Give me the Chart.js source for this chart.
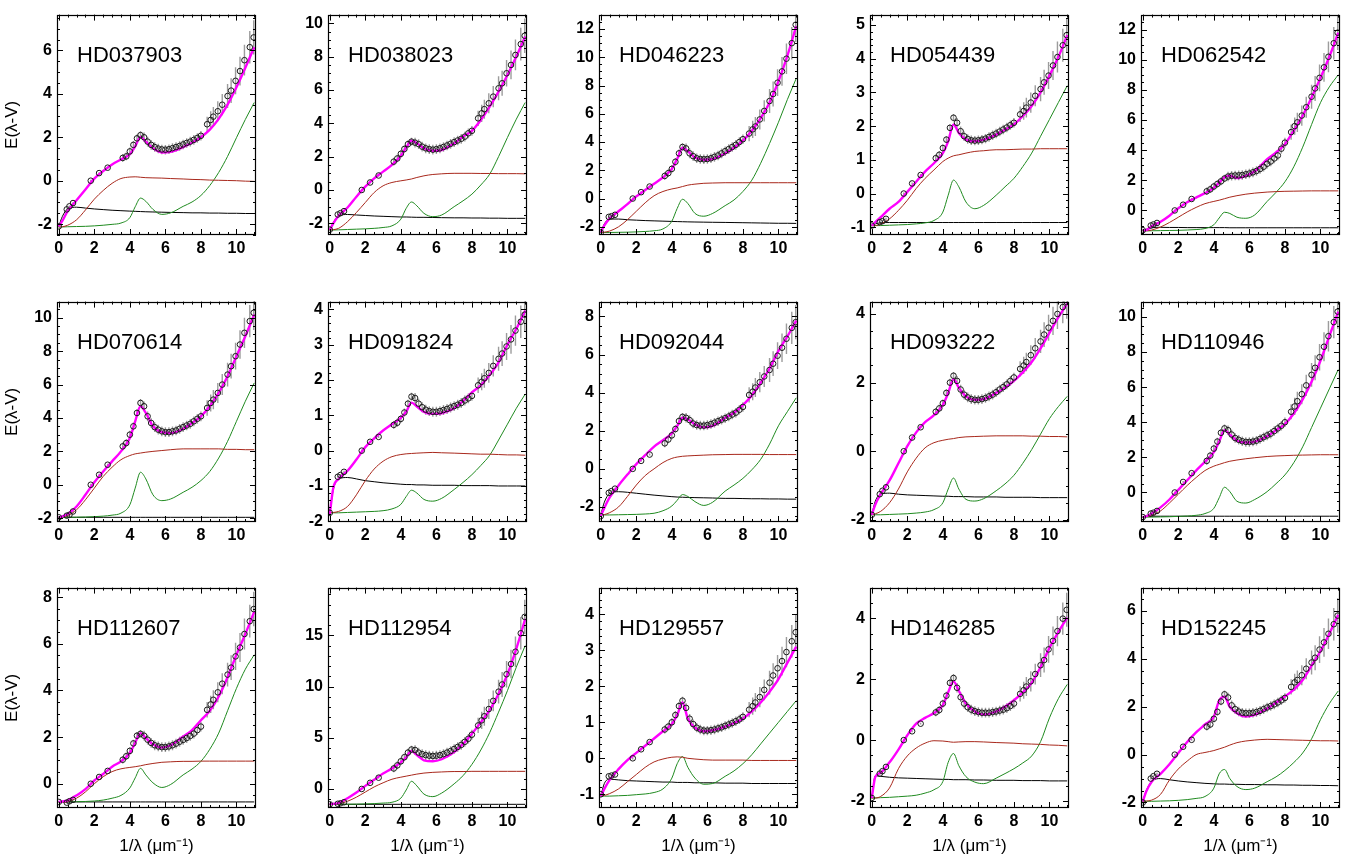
<!DOCTYPE html>
<html><head><meta charset="utf-8">
<script src="https://cdn.jsdelivr.net/npm/chart.js@4.4.1/dist/chart.umd.min.js"></script>
<style>
html,body{margin:0;padding:0;background:#fff;width:1358px;height:856px;overflow:hidden;position:relative;font-family:"Liberation Sans",Arial,sans-serif;}
canvas{position:absolute;}
.lbl{position:absolute;font-size:22px;line-height:22px;color:#000;white-space:nowrap;z-index:5;}
</style></head><body>
<script>
// ---------------- DATA ----------------
const NAMES = ["HD037903","HD038023","HD046223","HD054439","HD062542",
               "HD070614","HD091824","HD092044","HD093222","HD110946",
               "HD112607","HD112954","HD129557","HD146285","HD152245"];
const OBS_X = [0,0.45,0.6,0.8,1.8,2.27,2.75, 3.6,3.8,4.0,4.2,4.4,4.6,
  4.8,5.0,5.2,5.4,5.6,5.8,6.0,6.2,6.4,6.6,6.8,7.0,7.2,7.4,7.6,7.8,8.0,
  8.35,8.55,8.7,8.95,9.2,9.5,9.7,9.95,10.2,10.45,10.75,10.97];
const CURVE_X = [0,0.2,0.5,1,1.5,2,2.5,3,3.5,4,4.3,4.6,4.9,5.3,5.8,6.3,7,7.5,8,8.5,9,9.5,10,10.5,11];
const YMIN = [-2.5,-2.7,-2.58,-1.23,-1.63,-2.23,-2.02,-2.79,-2.06,-1.68,-1.04,-1.86,-1.38,-2.23,-2.23];
const YMAX = [7.65,10.52,13.02,5.31,13.0,10.97,4.22,8.78,4.36,10.87,8.41,19.66,4.74,5.01,6.98];
const YSTEP = [2,2,2,1,2,2,1,2,2,2,2,5,1,2,2];

// observed E(lambda-V)
const OBS_01 = [-2.1,-1.32,-1.18,-1.03,0,0.35,0.6, 1.05,1.12,1.35,1.65,1.95,2.1, 2.0,1.8,1.65,1.55,1.48,1.44,1.43,1.45,1.5,1.55,1.6,1.67,1.74,1.8,1.88,1.97,2.07, 2.6,2.8,2.95,3.2,3.5,3.9,4.15,4.6,5.05,5.55,6.15,6.6];
const OBS_02 = [-2.38,-1.47,-1.39,-1.27,0,0.45,0.87, 1.7,1.89,2.17,2.46,2.75,2.9, 2.84,2.75,2.6,2.5,2.45,2.42,2.45,2.5,2.58,2.67,2.77,2.87,2.97,3.07,3.2,3.4,3.55, 4.3,4.6,4.85,5.2,5.6,6.1,6.4,7.0,7.5,8.1,8.75,9.25];
const OBS_03 = [-2.4,-1.3,-1.25,-1.15,0,0.45,0.85, 1.6,1.8,2.1,2.6,3.2,3.65, 3.55,3.2,3.0,2.85,2.8,2.78,2.8,2.85,2.95,3.05,3.2,3.35,3.5,3.65,3.8,4.0,4.2, 4.6,4.9,5.1,5.6,6.2,6.9,7.4,8.2,9.0,9.9,11.0,12.3];
const OBS_04 = [-0.95,-0.85,-0.82,-0.75,0,0.3,0.55, 1.05,1.15,1.35,1.6,1.95,2.25, 2.1,1.85,1.7,1.62,1.58,1.57,1.58,1.6,1.63,1.68,1.73,1.78,1.84,1.9,1.96,2.03,2.1, 2.35,2.45,2.55,2.7,2.9,3.1,3.3,3.5,3.8,4.05,4.4,4.7];
const OBS_05 = [-1.31,-1.0,-0.93,-0.83,0,0.38,0.76, 1.27,1.4,1.59,1.76,1.93,2.12, 2.25,2.3,2.32,2.33,2.35,2.4,2.45,2.53,2.62,2.75,2.9,3.1,3.25,3.45,3.65,4.1,4.5, 5.2,5.6,5.85,6.3,6.85,7.55,8.1,8.8,9.5,10.2,11.1,11.8];
const OBS_06 = [-1.95,-1.85,-1.8,-1.6,0,0.6,1.2, 2.3,2.5,3.0,3.5,4.3,4.9, 4.7,4.1,3.7,3.45,3.3,3.2,3.15,3.15,3.2,3.25,3.35,3.45,3.55,3.65,3.8,3.95,4.1, 4.6,4.9,5.1,5.5,6.0,6.6,7.1,7.7,8.4,9.1,9.8,10.3];
const OBS_07 = [-1.76,-0.74,-0.69,-0.6,0,0.25,0.39, 0.73,0.79,0.9,1.08,1.33,1.53, 1.49,1.33,1.23,1.16,1.12,1.1,1.1,1.12,1.15,1.18,1.22,1.26,1.3,1.35,1.42,1.48,1.55, 1.85,1.95,2.05,2.2,2.4,2.6,2.75,2.95,3.15,3.4,3.65,3.85];
const OBS_08 = [-2.48,-1.26,-1.17,-1.04,0,0.42,0.75, 1.34,1.54,1.76,2.09,2.51,2.73, 2.68,2.56,2.38,2.3,2.27,2.27,2.3,2.35,2.42,2.5,2.58,2.66,2.75,2.85,2.95,3.1,3.25, 3.88,4.05,4.27,4.55,4.85,5.19,5.52,5.94,6.36,6.83,7.4,7.7];
const OBS_09 = [-1.85,-1.25,-1.15,-1.05,0,0.4,0.7, 1.15,1.25,1.4,1.7,2.0,2.2, 2.05,1.8,1.65,1.57,1.52,1.5,1.5,1.52,1.55,1.6,1.65,1.72,1.8,1.87,1.95,2.05,2.15, 2.4,2.5,2.6,2.8,3.0,3.2,3.4,3.6,3.8,4.0,4.2,4.35];
const OBS_10 = [-1.4,-1.2,-1.15,-1.05,0,0.6,1.1, 1.8,2.1,2.5,2.9,3.4,3.65, 3.55,3.3,3.1,3.0,2.92,2.88,2.88,2.9,2.95,3.05,3.15,3.25,3.35,3.5,3.65,3.8,4.0, 4.6,4.9,5.2,5.6,6.1,6.7,7.1,7.7,8.3,8.9,9.7,10.3];
const OBS_11 = [-0.78,-0.81,-0.75,-0.69,0,0.29,0.55, 1.03,1.18,1.41,1.73,2.06,2.14, 2.06,1.89,1.75,1.65,1.6,1.57,1.57,1.6,1.65,1.72,1.8,1.88,1.96,2.05,2.15,2.3,2.45, 3.17,3.4,3.6,3.92,4.29,4.68,4.98,5.46,5.84,6.42,6.97,7.49];
const OBS_12 = [-1.5,-1.45,-1.4,-1.3,0,0.6,1.1, 2.0,2.3,2.7,3.1,3.55,3.85, 3.8,3.55,3.4,3.3,3.25,3.22,3.25,3.3,3.4,3.55,3.7,3.9,4.1,4.3,4.6,4.9,5.3, 6.2,6.7,7.1,7.8,8.6,9.5,10.2,11.2,12.2,13.4,15.2,16.8];
const OBS_13 = [-1.0,-0.5,-0.48,-0.45,0,0.25,0.45, 0.8,0.88,1.0,1.2,1.45,1.6, 1.4,1.1,0.95,0.85,0.8,0.77,0.77,0.78,0.8,0.83,0.86,0.9,0.94,0.98,1.03,1.08,1.15, 1.35,1.45,1.55,1.7,1.9,2.1,2.3,2.5,2.7,2.95,3.25,3.5];
const OBS_14 = [-1.9,-1.1,-1.02,-0.88,0,0.29,0.54, 0.91,0.99,1.2,1.46,1.88,2.04, 1.72,1.41,1.2,1.08,1.0,0.95,0.92,0.9,0.9,0.9,0.92,0.94,0.97,1.0,1.05,1.12,1.2, 1.52,1.64,1.76,1.93,2.17,2.46,2.63,2.98,3.26,3.58,3.99,4.28];
const OBS_15 = [-2.0,-1.0,-0.9,-0.8,0,0.33,0.62, 1.17,1.26,1.5,1.79,2.22,2.52, 2.39,2.06,1.9,1.8,1.75,1.73,1.73,1.75,1.78,1.83,1.9,1.97,2.03,2.1,2.18,2.27,2.37, 2.83,3.02,3.12,3.32,3.59,3.85,4.05,4.39,4.69,5.05,5.45,5.81];

// error bar half-lengths
const ERR_01 = [0.04,0.04,0.04,0.04,0.04,0.04,0.04, 0.18,0.18,0.18,0.18,0.18,0.18, 0.22,0.22,0.22,0.22,0.22,0.22,0.22,0.22,0.22,0.22,0.22,0.22,0.22,0.22,0.22,0.22,0.22, 0.35,0.4,0.44,0.46,0.49,0.55,0.57,0.62,0.66,0.71,0.75,0.79];
const ERR_02 = [0.06,0.06,0.06,0.06,0.06,0.06,0.06, 0.23,0.23,0.23,0.23,0.23,0.23, 0.29,0.29,0.29,0.29,0.29,0.29,0.29,0.29,0.29,0.29,0.29,0.29,0.29,0.29,0.29,0.29,0.29, 0.46,0.52,0.57,0.6,0.63,0.72,0.75,0.8,0.86,0.92,0.98,1.03];
const ERR_03 = [0.07,0.07,0.07,0.07,0.07,0.07,0.07, 0.27,0.27,0.27,0.27,0.27,0.27, 0.34,0.34,0.34,0.34,0.34,0.34,0.34,0.34,0.34,0.34,0.34,0.34,0.34,0.34,0.34,0.34,0.34, 0.54,0.61,0.68,0.71,0.75,0.85,0.88,0.95,1.02,1.08,1.15,1.22];
const ERR_04 = [0.03,0.03,0.03,0.03,0.03,0.03,0.03, 0.11,0.11,0.11,0.11,0.11,0.11, 0.14,0.14,0.14,0.14,0.14,0.14,0.14,0.14,0.14,0.14,0.14,0.14,0.14,0.14,0.14,0.14,0.14, 0.23,0.26,0.29,0.3,0.31,0.36,0.37,0.4,0.43,0.46,0.49,0.51];
const ERR_05 = [0.06,0.06,0.06,0.06,0.06,0.06,0.06, 0.25,0.25,0.25,0.25,0.25,0.25, 0.32,0.32,0.32,0.32,0.32,0.32,0.32,0.32,0.32,0.32,0.32,0.32,0.32,0.32,0.32,0.32,0.32, 0.51,0.57,0.64,0.67,0.7,0.8,0.83,0.89,0.95,1.02,1.08,1.15];
const ERR_06 = [0.06,0.06,0.06,0.06,0.06,0.06,0.06, 0.23,0.23,0.23,0.23,0.23,0.23, 0.29,0.29,0.29,0.29,0.29,0.29,0.29,0.29,0.29,0.29,0.29,0.29,0.29,0.29,0.29,0.29,0.29, 0.46,0.51,0.57,0.6,0.63,0.71,0.74,0.8,0.86,0.91,0.97,1.03];
const ERR_07 = [0.03,0.03,0.03,0.03,0.03,0.03,0.03, 0.11,0.11,0.11,0.11,0.11,0.11, 0.14,0.14,0.14,0.14,0.14,0.14,0.14,0.14,0.14,0.14,0.14,0.14,0.14,0.14,0.14,0.14,0.14, 0.22,0.24,0.27,0.28,0.3,0.34,0.35,0.38,0.41,0.43,0.46,0.49];
const ERR_08 = [0.05,0.05,0.05,0.05,0.05,0.05,0.05, 0.2,0.2,0.2,0.2,0.2,0.2, 0.25,0.25,0.25,0.25,0.25,0.25,0.25,0.25,0.25,0.25,0.25,0.25,0.25,0.25,0.25,0.25,0.25, 0.4,0.45,0.5,0.53,0.55,0.63,0.65,0.7,0.75,0.8,0.85,0.9];
const ERR_09 = [0.03,0.03,0.03,0.03,0.03,0.03,0.03, 0.11,0.11,0.11,0.11,0.11,0.11, 0.14,0.14,0.14,0.14,0.14,0.14,0.14,0.14,0.14,0.14,0.14,0.14,0.14,0.14,0.14,0.14,0.14, 0.22,0.25,0.27,0.29,0.3,0.34,0.36,0.38,0.41,0.44,0.47,0.49];
const ERR_10 = [0.05,0.05,0.05,0.05,0.05,0.05,0.05, 0.22,0.22,0.22,0.22,0.22,0.22, 0.27,0.27,0.27,0.27,0.27,0.27,0.27,0.27,0.27,0.27,0.27,0.27,0.27,0.27,0.27,0.27,0.27, 0.43,0.49,0.54,0.57,0.6,0.68,0.71,0.76,0.82,0.87,0.92,0.98];
const ERR_11 = [0.04,0.04,0.04,0.04,0.04,0.04,0.04, 0.16,0.16,0.16,0.16,0.16,0.16, 0.21,0.21,0.21,0.21,0.21,0.21,0.21,0.21,0.21,0.21,0.21,0.21,0.21,0.21,0.21,0.21,0.21, 0.33,0.37,0.41,0.43,0.45,0.51,0.53,0.58,0.62,0.66,0.7,0.74];
const ERR_12 = [0.09,0.09,0.09,0.09,0.09,0.09,0.09, 0.37,0.37,0.37,0.37,0.37,0.37, 0.47,0.47,0.47,0.47,0.47,0.47,0.47,0.47,0.47,0.47,0.47,0.47,0.47,0.47,0.47,0.47,0.47, 0.74,0.84,0.93,0.98,1.02,1.16,1.21,1.3,1.4,1.49,1.58,1.68];
const ERR_13 = [0.03,0.03,0.03,0.03,0.03,0.03,0.03, 0.11,0.11,0.11,0.11,0.11,0.11, 0.13,0.13,0.13,0.13,0.13,0.13,0.13,0.13,0.13,0.13,0.13,0.13,0.13,0.13,0.13,0.13,0.13, 0.21,0.24,0.26,0.28,0.29,0.33,0.34,0.37,0.4,0.42,0.45,0.48];
const ERR_14 = [0.03,0.03,0.03,0.03,0.03,0.03,0.03, 0.13,0.13,0.13,0.13,0.13,0.13, 0.16,0.16,0.16,0.16,0.16,0.16,0.16,0.16,0.16,0.16,0.16,0.16,0.16,0.16,0.16,0.16,0.16, 0.25,0.28,0.31,0.33,0.34,0.39,0.41,0.44,0.47,0.5,0.53,0.56];
const ERR_15 = [0.04,0.04,0.04,0.04,0.04,0.04,0.04, 0.16,0.16,0.16,0.16,0.16,0.16, 0.2,0.2,0.2,0.2,0.2,0.2,0.2,0.2,0.2,0.2,0.2,0.2,0.2,0.2,0.2,0.2,0.2, 0.32,0.36,0.4,0.42,0.44,0.5,0.52,0.56,0.6,0.64,0.68,0.72];

// total fit (magenta)
const FIT_01 = [-2.1,-1.85,-1.4,-0.9,-0.4,0.1,0.45,0.75,0.98,1.22,1.58,2.02,1.8,1.5,1.3,1.33,1.55,1.75,2.0,2.35,2.85,3.5,4.3,5.2,6.15];
const FIT_02 = [-2.4,-2.0,-1.55,-1.05,-0.4,0.2,0.7,1.1,1.5,2.05,2.55,2.95,2.8,2.5,2.35,2.4,2.8,3.2,3.55,4.2,5.0,5.9,6.9,8.0,9.2];
const FIT_03 = [-2.4,-1.9,-1.4,-0.9,-0.4,0.15,0.6,1.05,1.5,2.1,2.8,3.6,3.35,2.9,2.75,2.8,3.2,3.6,4.1,4.8,5.7,6.8,8.3,10.1,12.2];
const FIT_04 = [-0.95,-0.85,-0.7,-0.45,-0.25,0.05,0.35,0.65,0.9,1.2,1.55,2.05,1.8,1.6,1.55,1.6,1.75,1.9,2.05,2.3,2.6,3.0,3.5,4.05,4.7];
const FIT_05 = [-1.35,-1.3,-1.05,-0.75,-0.35,0.15,0.55,0.85,1.15,1.5,1.85,2.2,2.3,2.15,2.3,2.6,3.4,3.85,4.4,5.3,6.3,7.5,8.8,10.2,11.8];
const FIT_06 = [-1.95,-1.9,-1.75,-1.3,-0.6,0.15,0.8,1.4,2.0,2.8,3.8,4.7,4.3,3.5,3.15,3.1,3.35,3.7,4.1,4.7,5.5,6.5,7.7,8.9,10.2];
const FIT_07 = [-1.8,-1.05,-0.8,-0.57,-0.25,0.1,0.35,0.57,0.75,0.93,1.1,1.36,1.25,1.1,1.04,1.06,1.2,1.4,1.65,1.85,2.14,2.5,3.0,3.45,3.97];
const FIT_08 = [-2.48,-2.05,-1.5,-0.87,-0.3,0.25,0.72,1.17,1.5,1.87,2.25,2.68,2.6,2.34,2.18,2.26,2.68,2.95,3.35,3.85,4.52,5.27,6.19,6.95,7.78];
const FIT_09 = [-1.85,-1.55,-1.25,-0.85,-0.35,0.15,0.55,0.85,1.05,1.35,1.7,2.1,1.85,1.6,1.5,1.52,1.7,1.85,2.05,2.3,2.6,3.0,3.45,3.9,4.3];
const FIT_10 = [-1.4,-1.35,-1.2,-0.85,-0.4,0.15,0.7,1.25,1.75,2.3,2.9,3.55,3.3,2.95,2.85,2.9,3.2,3.55,3.9,4.5,5.3,6.3,7.5,8.9,10.3];
const FIT_11 = [-0.78,-0.76,-0.71,-0.5,-0.23,0.14,0.42,0.73,0.96,1.32,1.76,2.17,1.96,1.69,1.55,1.65,2.03,2.3,2.72,3.13,3.74,4.57,5.53,6.42,7.38];
const FIT_12 = [-1.5,-1.45,-1.35,-0.9,-0.35,0.3,0.9,1.5,2.0,2.6,3.1,3.7,3.3,2.8,2.7,2.9,3.6,4.4,5.4,6.5,7.7,9.3,11.2,13.7,16.6];
const FIT_13 = [-1.05,-0.85,-0.6,-0.3,-0.05,0.15,0.35,0.55,0.75,0.95,1.2,1.55,1.1,0.85,0.75,0.78,0.88,0.98,1.1,1.3,1.55,1.85,2.2,2.65,3.1];
const FIT_14 = [-1.9,-1.2,-1.07,-0.73,-0.31,0.16,0.54,0.73,0.89,1.15,1.57,1.93,1.62,1.2,0.94,0.84,0.94,1.1,1.31,1.57,1.88,2.4,3.03,3.55,4.02];
const FIT_15 = [-1.95,-1.53,-1.13,-0.8,-0.4,0.07,0.53,0.93,1.26,1.59,2.26,2.42,1.99,1.73,1.59,1.66,1.93,2.17,2.43,2.72,3.12,3.72,4.32,5.05,5.85];

// red component
const RED_01 = [-2.13,-2.12,-2.05,-1.8,-1.35,-0.85,-0.45,-0.12,0.1,0.17,0.18,0.16,0.14,0.13,0.12,0.1,0.08,0.06,0.05,0.03,0.02,0.01,0.0,-0.02,-0.03];
const RED_02 = [-2.4,-2.38,-2.3,-1.9,-1.35,-0.75,-0.15,0.25,0.45,0.55,0.6,0.66,0.75,0.85,0.93,0.97,1.0,1.0,1.0,0.99,0.99,0.98,0.98,0.98,0.97];
const RED_03 = [-2.4,-2.38,-2.3,-2.0,-1.5,-0.9,-0.3,0.2,0.5,0.68,0.75,0.85,0.95,1.02,1.08,1.1,1.12,1.12,1.12,1.12,1.12,1.12,1.12,1.12,1.12];
const RED_04 = [-0.95,-0.95,-0.9,-0.75,-0.5,-0.2,0.15,0.45,0.7,0.95,1.05,1.12,1.15,1.2,1.25,1.27,1.3,1.3,1.31,1.32,1.32,1.33,1.33,1.33,1.33];
const RED_05 = [-1.35,-1.35,-1.3,-1.1,-0.8,-0.45,-0.1,0.2,0.45,0.6,0.68,0.78,0.88,0.98,1.08,1.15,1.22,1.25,1.27,1.28,1.29,1.3,1.3,1.3,1.3];
const RED_06 = [-1.95,-1.93,-1.85,-1.5,-0.9,-0.2,0.5,1.05,1.5,1.75,1.85,1.9,1.95,2.0,2.05,2.1,2.15,2.15,2.15,2.15,2.15,2.12,2.12,2.1,2.1];
const RED_07 = [-1.76,-1.75,-1.72,-1.58,-1.25,-0.85,-0.52,-0.3,-0.17,-0.11,-0.09,-0.08,-0.07,-0.06,-0.05,-0.06,-0.07,-0.08,-0.09,-0.1,-0.1,-0.11,-0.12,-0.12,-0.13];
const RED_08 = [-2.42,-2.4,-2.3,-2.0,-1.45,-0.85,-0.35,0.0,0.33,0.55,0.62,0.66,0.68,0.7,0.72,0.74,0.75,0.76,0.76,0.76,0.76,0.75,0.75,0.75,0.75];
const RED_09 = [-1.85,-1.82,-1.75,-1.5,-1.1,-0.6,-0.2,0.1,0.25,0.32,0.35,0.37,0.4,0.42,0.43,0.44,0.45,0.45,0.45,0.45,0.44,0.44,0.43,0.43,0.42];
const RED_10 = [-1.4,-1.38,-1.3,-1.05,-0.6,-0.1,0.4,0.85,1.25,1.5,1.6,1.7,1.78,1.85,1.92,1.98,2.05,2.08,2.1,2.12,2.13,2.14,2.15,2.15,2.15];
const RED_11 = [-0.8,-0.8,-0.77,-0.62,-0.35,0.0,0.3,0.52,0.64,0.7,0.73,0.77,0.82,0.87,0.92,0.94,0.96,0.96,0.97,0.97,0.97,0.97,0.97,0.97,0.97];
const RED_12 = [-1.5,-1.5,-1.45,-1.2,-0.8,-0.3,0.2,0.6,0.95,1.15,1.25,1.35,1.45,1.55,1.62,1.66,1.7,1.7,1.72,1.72,1.72,1.72,1.72,1.72,1.72];
const RED_13 = [-1.05,-1.03,-0.98,-0.85,-0.65,-0.45,-0.25,-0.1,-0.02,0.03,0.04,0.03,0.0,-0.02,-0.04,-0.05,-0.05,-0.05,-0.05,-0.06,-0.06,-0.06,-0.06,-0.06,-0.06];
const RED_14 = [-1.9,-1.9,-1.85,-1.57,-0.94,-0.52,-0.26,-0.1,-0.02,-0.03,-0.05,-0.07,-0.06,-0.05,-0.05,-0.06,-0.08,-0.09,-0.1,-0.12,-0.13,-0.14,-0.16,-0.17,-0.19];
const RED_15 = [-1.95,-1.94,-1.9,-1.66,-1.06,-0.6,-0.27,0.0,0.09,0.17,0.24,0.31,0.4,0.5,0.57,0.61,0.64,0.63,0.62,0.61,0.6,0.59,0.58,0.58,0.57];

// green component
const GRN_01 = [-2.13,-2.13,-2.12,-2.11,-2.1,-2.08,-2.05,-2.01,-1.95,-1.7,-1.2,-0.8,-0.95,-1.32,-1.55,-1.48,-1.18,-0.98,-0.68,-0.22,0.38,1.12,1.98,2.82,3.6];
const GRN_02 = [-2.4,-2.4,-2.39,-2.37,-2.35,-2.33,-2.3,-2.25,-2.15,-1.75,-1.1,-0.72,-0.95,-1.4,-1.6,-1.5,-1.0,-0.65,-0.25,0.3,0.95,2.0,3.15,4.25,5.25];
const GRN_03 = [-2.4,-2.4,-2.4,-2.39,-2.38,-2.36,-2.33,-2.28,-2.15,-1.6,-0.7,-0.05,-0.35,-1.05,-1.25,-1.05,-0.5,-0.1,0.5,1.3,2.5,3.9,5.4,7.0,8.5];
const GRN_04 = [-0.95,-0.95,-0.95,-0.94,-0.93,-0.92,-0.9,-0.87,-0.8,-0.55,-0.05,0.4,0.2,-0.25,-0.45,-0.35,-0.05,0.2,0.45,0.8,1.2,1.7,2.2,2.7,3.2];
const GRN_05 = [-1.35,-1.35,-1.35,-1.34,-1.33,-1.32,-1.3,-1.27,-1.2,-0.95,-0.5,-0.12,-0.2,-0.45,-0.52,-0.3,0.6,1.2,1.9,2.9,4.2,5.7,7.15,8.2,9.0];
const GRN_06 = [-1.95,-1.95,-1.95,-1.94,-1.93,-1.91,-1.88,-1.82,-1.7,-1.2,-0.2,0.75,0.35,-0.6,-0.95,-0.85,-0.45,-0.15,0.25,0.8,1.6,2.6,3.8,5.0,6.1];
const GRN_07 = [-1.76,-1.76,-1.76,-1.75,-1.74,-1.73,-1.72,-1.7,-1.65,-1.52,-1.3,-1.12,-1.2,-1.38,-1.43,-1.35,-1.1,-0.9,-0.68,-0.42,-0.13,0.3,0.75,1.2,1.6];
const GRN_08 = [-2.42,-2.42,-2.42,-2.41,-2.4,-2.39,-2.37,-2.33,-2.2,-1.95,-1.65,-1.35,-1.45,-1.72,-1.92,-1.75,-1.17,-0.85,-0.5,-0.05,0.5,1.3,2.26,3.0,3.73];
const GRN_09 = [-1.85,-1.85,-1.85,-1.84,-1.83,-1.82,-1.8,-1.77,-1.7,-1.5,-1.1,-0.78,-1.1,-1.4,-1.45,-1.38,-1.15,-0.95,-0.7,-0.35,0.05,0.5,0.95,1.3,1.6];
const GRN_10 = [-1.4,-1.4,-1.4,-1.39,-1.38,-1.36,-1.34,-1.3,-1.2,-0.9,-0.3,0.3,0.05,-0.5,-0.6,-0.4,0.05,0.5,1.0,1.7,2.6,3.7,4.8,5.9,7.0];
const GRN_11 = [-0.78,-0.78,-0.78,-0.77,-0.76,-0.74,-0.7,-0.62,-0.5,-0.18,0.25,0.66,0.38,0.04,-0.16,-0.03,0.38,0.63,0.96,1.48,2.17,3.13,4.09,4.91,5.53];
const GRN_12 = [-1.5,-1.5,-1.5,-1.49,-1.48,-1.46,-1.43,-1.38,-1.3,-0.9,-0.1,0.75,0.3,-0.5,-0.75,-0.4,0.5,1.3,2.4,3.8,5.5,7.5,9.6,11.9,14.0];
const GRN_13 = [-1.05,-1.05,-1.05,-1.04,-1.03,-1.01,-0.99,-0.95,-0.85,-0.55,-0.15,0.05,-0.25,-0.55,-0.72,-0.7,-0.5,-0.35,-0.15,0.1,0.4,0.7,1.0,1.3,1.6];
const GRN_14 = [-1.9,-1.9,-1.89,-1.88,-1.86,-1.84,-1.81,-1.74,-1.63,-1.36,-0.73,-0.44,-0.84,-1.2,-1.38,-1.43,-1.25,-1.1,-0.94,-0.75,-0.52,-0.05,0.73,1.36,1.83];
const GRN_15 = [-1.95,-1.95,-1.95,-1.94,-1.93,-1.91,-1.88,-1.83,-1.75,-1.4,-0.8,-0.62,-1.0,-1.33,-1.46,-1.4,-1.13,-0.93,-0.66,-0.33,0.07,0.66,1.46,2.13,2.66];

// black component
const BLK_01 = [-2.1,-1.65,-1.3,-1.22,-1.26,-1.3,-1.33,-1.36,-1.38,-1.4,-1.41,-1.42,-1.43,-1.44,-1.45,-1.46,-1.47,-1.48,-1.48,-1.49,-1.49,-1.5,-1.5,-1.51,-1.51];
const BLK_02 = [-2.4,-1.95,-1.55,-1.47,-1.5,-1.53,-1.56,-1.58,-1.6,-1.62,-1.62,-1.63,-1.64,-1.64,-1.65,-1.66,-1.67,-1.67,-1.68,-1.68,-1.69,-1.69,-1.7,-1.7,-1.7];
const BLK_03 = [-2.4,-1.8,-1.45,-1.45,-1.5,-1.53,-1.56,-1.58,-1.6,-1.62,-1.63,-1.64,-1.65,-1.66,-1.67,-1.68,-1.69,-1.7,-1.71,-1.72,-1.73,-1.74,-1.75,-1.75,-1.76];
const BLK_04 = [-0.95,-0.9,-0.87,-0.86,-0.86,-0.86,-0.86,-0.86,-0.86,-0.86,-0.86,-0.86,-0.86,-0.86,-0.86,-0.86,-0.86,-0.86,-0.86,-0.86,-0.86,-0.86,-0.86,-0.86,-0.86];
const BLK_05 = [-1.35,-1.25,-1.15,-1.12,-1.13,-1.13,-1.14,-1.14,-1.14,-1.14,-1.14,-1.14,-1.15,-1.15,-1.15,-1.15,-1.15,-1.15,-1.15,-1.15,-1.15,-1.15,-1.15,-1.15,-1.15];
const BLK_06 = [-1.95,-1.95,-1.95,-1.95,-1.95,-1.95,-1.95,-1.95,-1.95,-1.95,-1.95,-1.95,-1.95,-1.95,-1.95,-1.95,-1.95,-1.95,-1.95,-1.95,-1.95,-1.95,-1.95,-1.95,-1.95];
const BLK_07 = [-1.76,-1.1,-0.8,-0.76,-0.8,-0.85,-0.88,-0.91,-0.93,-0.95,-0.96,-0.96,-0.97,-0.97,-0.98,-0.98,-0.98,-0.99,-0.99,-0.99,-0.99,-1.0,-1.0,-1.0,-1.0];
const BLK_08 = [-2.42,-1.75,-1.3,-1.2,-1.23,-1.28,-1.33,-1.38,-1.42,-1.46,-1.48,-1.49,-1.5,-1.51,-1.52,-1.53,-1.55,-1.55,-1.56,-1.57,-1.57,-1.58,-1.58,-1.59,-1.59];
const BLK_09 = [-1.85,-1.45,-1.25,-1.22,-1.25,-1.27,-1.28,-1.29,-1.3,-1.31,-1.31,-1.32,-1.32,-1.32,-1.33,-1.33,-1.33,-1.34,-1.34,-1.34,-1.34,-1.35,-1.35,-1.35,-1.35];
const BLK_10 = [-1.4,-1.36,-1.35,-1.35,-1.35,-1.35,-1.35,-1.35,-1.35,-1.35,-1.35,-1.35,-1.35,-1.35,-1.35,-1.35,-1.35,-1.35,-1.35,-1.35,-1.35,-1.35,-1.35,-1.35,-1.35];
const BLK_11 = [-0.78,-0.78,-0.78,-0.78,-0.78,-0.78,-0.78,-0.78,-0.78,-0.78,-0.78,-0.78,-0.78,-0.78,-0.78,-0.78,-0.78,-0.78,-0.78,-0.78,-0.78,-0.78,-0.78,-0.78,-0.78];
const BLK_12 = [-1.5,-1.5,-1.5,-1.5,-1.5,-1.5,-1.5,-1.5,-1.5,-1.5,-1.5,-1.5,-1.5,-1.5,-1.5,-1.5,-1.5,-1.5,-1.5,-1.5,-1.5,-1.5,-1.5,-1.5,-1.5];
const BLK_13 = [-1.05,-0.7,-0.58,-0.6,-0.62,-0.63,-0.64,-0.65,-0.66,-0.66,-0.67,-0.67,-0.67,-0.68,-0.68,-0.68,-0.69,-0.69,-0.69,-0.7,-0.7,-0.7,-0.7,-0.7,-0.7];
const BLK_14 = [-1.9,-1.17,-1.19,-1.22,-1.24,-1.25,-1.26,-1.27,-1.28,-1.29,-1.29,-1.3,-1.3,-1.3,-1.31,-1.31,-1.32,-1.32,-1.32,-1.33,-1.33,-1.33,-1.34,-1.34,-1.34];
const BLK_15 = [-1.95,-1.5,-1.12,-1.0,-1.05,-1.1,-1.14,-1.17,-1.2,-1.22,-1.23,-1.23,-1.24,-1.24,-1.25,-1.25,-1.26,-1.26,-1.27,-1.27,-1.28,-1.28,-1.29,-1.29,-1.3];

const OBS = [OBS_01,OBS_02,OBS_03,OBS_04,OBS_05,OBS_06,OBS_07,OBS_08,OBS_09,OBS_10,OBS_11,OBS_12,OBS_13,OBS_14,OBS_15];
const ERR = [ERR_01,ERR_02,ERR_03,ERR_04,ERR_05,ERR_06,ERR_07,ERR_08,ERR_09,ERR_10,ERR_11,ERR_12,ERR_13,ERR_14,ERR_15];
const FIT = [FIT_01,FIT_02,FIT_03,FIT_04,FIT_05,FIT_06,FIT_07,FIT_08,FIT_09,FIT_10,FIT_11,FIT_12,FIT_13,FIT_14,FIT_15];
const RED = [RED_01,RED_02,RED_03,RED_04,RED_05,RED_06,RED_07,RED_08,RED_09,RED_10,RED_11,RED_12,RED_13,RED_14,RED_15];
const GRN = [GRN_01,GRN_02,GRN_03,GRN_04,GRN_05,GRN_06,GRN_07,GRN_08,GRN_09,GRN_10,GRN_11,GRN_12,GRN_13,GRN_14,GRN_15];
const BLK = [BLK_01,BLK_02,BLK_03,BLK_04,BLK_05,BLK_06,BLK_07,BLK_08,BLK_09,BLK_10,BLK_11,BLK_12,BLK_13,BLK_14,BLK_15];

// ---------------- LAYOUT / STYLE ----------------
const FONT = "'Liberation Sans', Arial, Helvetica, sans-serif";
const COL_LEFT = [57, 328, 599, 870, 1141];
const ROW_TOP = [5, 292, 578];
const PLOT_W = 199, PLOT_H = 230;
const AX_W = 60, AX_H = 50, PAD_T = 5, PAD_R = 6;

function pts(xs, ys) { return xs.map((x, j) => ({x: x, y: ys[j]})); }

function decor(i) {
  return {
    id: 'decor' + i,
    beforeDatasetsDraw(chart) {
      const ctx = chart.ctx, a = chart.chartArea, xs = chart.scales.x, ys = chart.scales.y;
      ctx.save();
      ctx.beginPath(); ctx.rect(a.left, a.top, a.right - a.left, a.bottom - a.top); ctx.clip();
      ctx.strokeStyle = '#9c9c9c'; ctx.lineWidth = 1.4;
      const o = OBS[i], e = ERR[i];
      for (let j = 0; j < OBS_X.length; j++) {
        const px = xs.getPixelForValue(OBS_X[j]);
        ctx.beginPath();
        ctx.moveTo(px, ys.getPixelForValue(o[j] - e[j]));
        ctx.lineTo(px, ys.getPixelForValue(o[j] + e[j]));
        ctx.stroke();
      }
      ctx.restore();
    },
    afterDraw(chart) {
      const ctx = chart.ctx, a = chart.chartArea, xs = chart.scales.x, ys = chart.scales.y;
      ctx.save();
      ctx.strokeStyle = '#000'; ctx.lineWidth = 1;
      const line = (x1, y1, x2, y2) => { ctx.beginPath(); ctx.moveTo(x1, y1); ctx.lineTo(x2, y2); ctx.stroke(); };
      const ticks = (scale, horiz, step, nMin) => {
        const m = step / nMin;
        const k0 = Math.ceil(scale.min / m - 1e-6), k1 = Math.floor(scale.max / m + 1e-6);
        for (let k = k0; k <= k1; k++) {
          const major = Math.abs(k % nMin) === 0;
          const L = major ? 6 : 3;
          const p = Math.round(scale.getPixelForValue(k * m)) + 0.5;
          if (horiz) { line(p, a.bottom, p, a.bottom - L); line(p, a.top, p, a.top + L); }
          else { line(a.left, p, a.left + L, p); line(a.right, p, a.right - L, p); }
        }
      };
      ticks(xs, true, 2, 4);
      const st = YSTEP[i];
      ticks(ys, false, st, st === 2 ? 4 : 5);
      ctx.lineWidth = 1.2;
      ctx.strokeRect(Math.round(a.left) + 0.5, Math.round(a.top) + 0.5, Math.round(a.right - a.left) - 1, Math.round(a.bottom - a.top) - 1);
      ctx.restore();
    }
  };
}

function makeChart(i) {
  const r = Math.floor(i / 5), c = i % 5;
  const W = AX_W + PLOT_W + PAD_R, H = PAD_T + PLOT_H + AX_H;
  const cv = document.createElement('canvas');
  cv.width = W; cv.height = H;
  cv.style.left = (COL_LEFT[c] - AX_W) + 'px';
  cv.style.top = (ROW_TOP[r] - PAD_T) + 'px';
  cv.style.width = W + 'px'; cv.style.height = H + 'px';
  document.body.appendChild(cv);
  const lineDs = (ys, color, width, order) => ({
    type: 'line', data: pts(CURVE_X, ys), borderColor: color, borderWidth: width,
    pointRadius: 0, fill: false, cubicInterpolationMode: 'monotone', order: order
  });
  new Chart(cv, {
    type: 'scatter',
    data: {
      datasets: [
        {data: pts(OBS_X, OBS[i]), showLine: false, pointRadius: 2.8, pointBorderWidth: 1,
         pointBorderColor: '#1a1a1a', pointBackgroundColor: 'rgba(255,255,255,0)', order: 0},
        lineDs(FIT[i], '#ff00ff', 2.4, 1),
        lineDs(RED[i], '#a8281c', 1, 2),
        lineDs(GRN[i], '#1f8a1f', 1, 3),
        lineDs(BLK[i], '#000000', 1, 4)
      ]
    },
    options: {
      responsive: false, animation: false, devicePixelRatio: 1, events: [],
      layout: {padding: {left: 0, right: PAD_R, top: PAD_T, bottom: 0}},
      plugins: {legend: {display: false}, tooltip: {enabled: false}},
      scales: {
        x: {
          type: 'linear', min: -0.1, max: 11.1,
          grid: {display: false, drawTicks: false}, border: {display: false},
          ticks: {stepSize: 2, includeBounds: false, autoSkip: false, maxRotation: 0,
                  font: {family: FONT, size: 16, weight: 'bold'}, color: '#000', padding: 4},
          title: {display: r === 2, text: '1/λ (μm⁻¹)', color: '#000',
                  font: {family: FONT, size: 17}, padding: {top: 0, bottom: 1}},
          afterFit: (s) => { s.height = AX_H; }
        },
        y: {
          type: 'linear', min: YMIN[i], max: YMAX[i],
          grid: {display: false, drawTicks: false}, border: {display: false},
          ticks: {stepSize: YSTEP[i], includeBounds: false, autoSkip: false,
                  font: {family: FONT, size: 16, weight: 'bold'}, color: '#000', padding: 5},
          title: {display: c === 0, text: 'E(λ-V)', color: '#000',
                  font: {family: FONT, size: 17}, padding: {top: 5, bottom: 0}},
          afterFit: (s) => { s.width = AX_W; }
        }
      }
    },
    plugins: [decor(i)]
  });
  const lb = document.createElement('div');
  lb.className = 'lbl';
  lb.textContent = NAMES[i];
  lb.style.left = (COL_LEFT[c] + 20) + 'px';
  lb.style.top = (ROW_TOP[r] + 39) + 'px';
  document.body.appendChild(lb);
}

for (let i = 0; i < NAMES.length; i++) makeChart(i);
</script>
</body></html>
